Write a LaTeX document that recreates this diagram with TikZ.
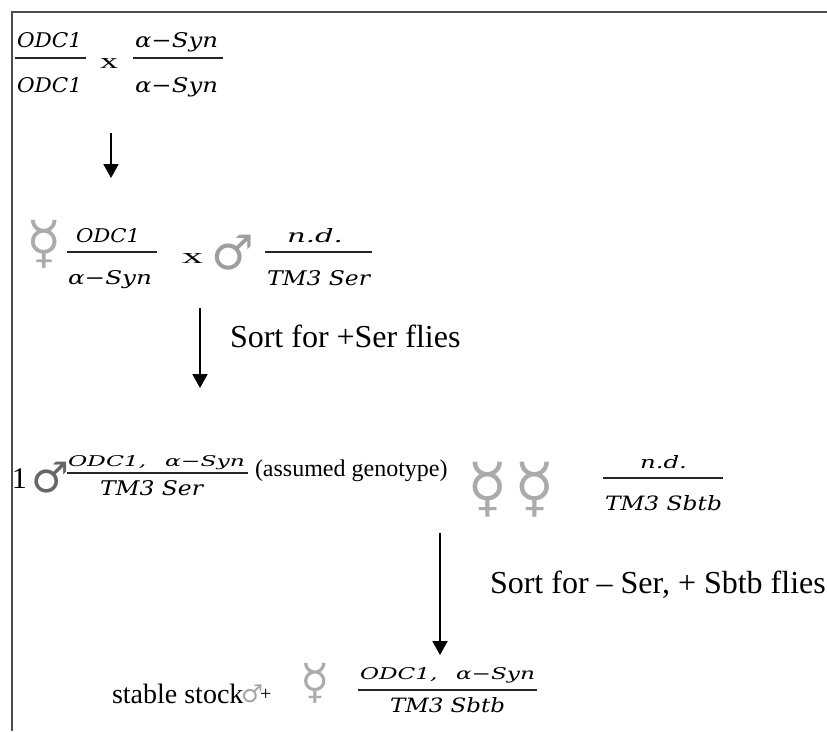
\documentclass[tikz,border=0pt]{standalone}
\usepackage{fontspec}
\usepackage{graphicx}
\usetikzlibrary{arrows.meta}
\newfontfamily\tnr{Liberation Serif}
\newfontfamily\dvs{DejaVu Sans}
\newfontfamily\mfr{DejaVu Serif}
\newcommand{\fitt}[3]{\resizebox{#1pt}{#2pt}{\mfr\itshape #3}}
\newcommand{\asyn}{α−Syn}
\newcommand{\hermsym}[1]{\resizebox*{!}{#1pt}{\dvs ☿}}
\newcommand{\malesym}[1]{\resizebox*{!}{#1pt}{\dvs ♂}}
\definecolor{hermc}{HTML}{ABABAB}
\begin{document}
\begin{tikzpicture}[x=1pt,y=-1pt,
  every node/.style={inner sep=0pt,outer sep=0pt},
  txt/.style={anchor=base west},
  rule/.style={line width=2pt,draw=black!85},
  arr/.style={line width=2pt,-{Triangle[width=15pt,length=14pt]}},
  border/.style={line width=2pt,draw=black!70},
  herm/.style={text=hermc}]
\useasboundingbox (0,0) rectangle (827,731);
\draw[border] (11.5,731) -- (11.5,11.5) -- (827,11.5);

% Row 1
\node[txt] (n1) at (17,47) {\fitt{65}{15}{ODC1}};
\node[txt] (d1) at (17,92) {\fitt{65}{15}{ODC1}};
\draw[rule] (15,58) -- (86,58);
\node[txt] (x1) at (100,68) {\resizebox{18pt}{10pt}{\tnr x}};
\node[txt] (n2) at (135,47) {\fitt{83}{15}{\asyn}};
\node[txt] (d2) at (135,92) {\fitt{83}{15}{\asyn}};
\draw[rule] (133,58) -- (223,58);

\coordinate (a1s) at (111,133);
\coordinate (a1e) at (111,178);
\draw[arr] (a1s) -- (a1e);

% Row 2
\node[herm] (h1) at (44.5,244) {\hermsym{48}};
\node[txt] (n3) at (76,242) {\fitt{64}{14}{ODC1}};
\node[txt] (d3) at (68,284) {\fitt{84}{14}{\asyn}};
\draw[rule] (67,252) -- (157,252);
\node[txt] (x2) at (182,263) {\resizebox{21pt}{10pt}{\tnr x}};
\node[text=black!38] (m1) at (232.5,252.5) {\malesym{35}};
\node[txt] (n4) at (287,242) {\fitt{56}{14}{n.d.}};
\node[txt] (d4) at (267,285) {\fitt{103}{15}{TM3 Ser}};
\draw[rule] (265,252) -- (372,252);

\coordinate (a2s) at (200,308);
\coordinate (a2e) at (200,388);
\draw[arr] (a2s) -- (a2e);
\node[txt] (l1) at (230,347) {\tnr\fontsize{32}{36}\selectfont Sort for +Ser flies};

% Row 3
\node[txt] (one) at (12,488) {\tnr\fontsize{30}{34}\selectfont 1};
\node[text=black!60,anchor=west] (m2) at (31,477.5) {\malesym{31}};
\node[txt] (n5) at (68,466) {\fitt{177}{11}{ODC1,\hspace{0.8em}\asyn}};
\node[txt] (d5) at (100,495) {\fitt{103}{15}{TM3 Ser}};
\draw[rule] (67,473) -- (248,473);
\node[txt] (as) at (255,476) {\tnr\fontsize{24}{28}\selectfont (assumed genotype)};
\node[herm] (h2) at (487.5,489.5) {\hermsym{55}};
\node[herm] (h3) at (535,489.5) {\hermsym{55}};
\node[txt] (n6) at (640,468) {\fitt{47}{13}{n.d.}};
\node[txt] (d6) at (605,510) {\fitt{117}{15}{TM3 Sbtb}};
\draw[rule] (603,478) -- (723,478);

\coordinate (a3s) at (440,533);
\coordinate (a3e) at (440,655);
\draw[arr] (a3s) -- (a3e);
\node[txt] (l2) at (490,593) {\tnr\fontsize{32}{36}\selectfont Sort for – Ser, + Sbtb flies};

% Row 4
\node[txt] (st) at (112,703) {\tnr\fontsize{28}{32}\selectfont stable stock};
\node[text=black!35] (m3) at (252,694) {\malesym{18}};
\node[txt] (pl) at (260,700) {\tnr\fontsize{20}{24}\selectfont +};
\node[herm] (h4) at (315.5,683) {\hermsym{40}};
\node[txt] (n7) at (360,679) {\fitt{175}{12}{ODC1,\hspace{0.8em}\asyn}};
\node[txt] (d7) at (390,712) {\fitt{115}{15}{TM3 Sbtb}};
\draw[rule] (358,690) -- (537,690);
\end{tikzpicture}
\end{document}
